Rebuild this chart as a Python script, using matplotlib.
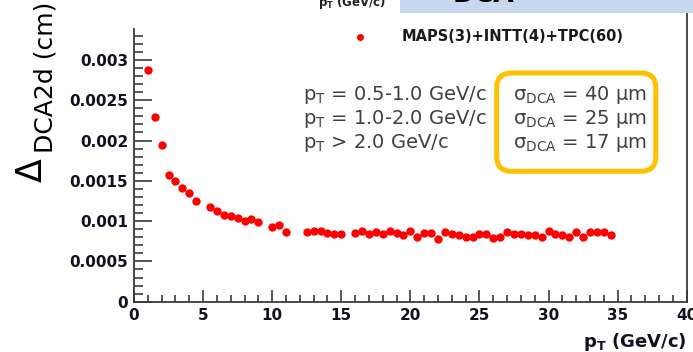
import matplotlib
matplotlib.use("Agg")
import matplotlib.pyplot as plt
from matplotlib.patches import FancyBboxPatch, Rectangle
from matplotlib.ticker import FixedLocator, MultipleLocator

# --- data -------------------------------------------------------------
pt_gev = [1.0, 1.5, 2.0, 2.5, 3.0, 3.5, 4.0, 4.5, 5.5, 6.0, 6.5, 7.0, 7.5,
          8.0, 8.5, 9.0, 10.0, 10.5, 11.0, 12.5, 13.0, 13.5, 14.0, 14.5,
          15.0, 16.0, 16.5, 17.0, 17.5, 18.0, 18.5, 19.0, 19.5, 20.0, 20.5,
          21.0, 21.5, 22.0, 22.5, 23.0, 23.5, 24.0, 24.5, 25.0, 25.5, 26.0,
          26.5, 27.0, 27.5, 28.0, 28.5, 29.0, 29.5, 30.0, 30.5, 31.0, 31.5,
          32.0, 32.5, 33.0, 33.5, 34.0, 34.5]
dca_res_mm = [2.87, 2.29, 1.95, 1.57, 1.50, 1.41, 1.35, 1.255, 1.18, 1.13,
              1.075, 1.068, 1.04, 1.00, 1.03, 0.985, 0.93, 0.95, 0.86,
              0.866, 0.88, 0.875, 0.857, 0.837, 0.842, 0.853, 0.88, 0.84,
              0.87, 0.84, 0.877, 0.853, 0.825, 0.88, 0.805, 0.853, 0.853,
              0.78, 0.87, 0.837, 0.825, 0.807, 0.807, 0.837, 0.837, 0.79,
              0.804, 0.866, 0.837, 0.837, 0.825, 0.825, 0.807, 0.878, 0.837,
              0.825, 0.807, 0.866, 0.807, 0.866, 0.866, 0.866, 0.825]
# values above are in units of 1e-3 cm
dca_res_cm = [v * 1e-3 for v in dca_res_mm]

x_ticks = [0, 5, 10, 15, 20, 25, 30, 35, 40]
x_tick_labels = ["0", "5", "10", "15", "20", "25", "30", "35", "40"]
y_ticks = [0, 0.0005, 0.001, 0.0015, 0.002, 0.0025, 0.003]
y_tick_labels = ["0", "0.0005", "0.001", "0.0015", "0.002", "0.0025", "0.003"]

pt_ranges = [r"p$_{\mathregular{T}}$ = 0.5-1.0 GeV/c",
             r"p$_{\mathregular{T}}$ = 1.0-2.0 GeV/c",
             r"p$_{\mathregular{T}}$ > 2.0 GeV/c"]
sigma_dca = ["40", "25", "17"]
legend_label = "MAPS(3)+INTT(4)+TPC(60)"

# --- figure -----------------------------------------------------------
W, H = 693, 352
plt.rcParams["font.family"] = ["DejaVu Sans"]
plt.rcParams["mathtext.fontset"] = "dejavusans"
fig = plt.figure(figsize=(W / 100, H / 100), dpi=100)
fig.patch.set_facecolor("white")

ax_l, ax_r, ax_b, ax_t = 134, 686.7, 301.7, 29.3
ax = fig.add_axes([ax_l / W, 1 - ax_b / H, (ax_r - ax_l) / W, (ax_b - ax_t) / H])
ax.set_xlim(0, 40)
ax.set_ylim(0, 0.00338)
ax.set_facecolor("none")

ax.plot(pt_gev, dca_res_cm, "o", color="#ff0000", ms=6.0, mec="none",
        clip_on=False, zorder=3)

axis_col = "#3a3a3a"
label_col = "#111122"
for side in ("top", "right"):
    ax.spines[side].set_visible(False)
for side in ("left", "bottom"):
    ax.spines[side].set_color(axis_col)
    ax.spines[side].set_linewidth(1.3)

ax.xaxis.set_major_locator(FixedLocator(x_ticks))
ax.xaxis.set_minor_locator(MultipleLocator(1))
ax.yaxis.set_major_locator(FixedLocator(y_ticks))
ax.yaxis.set_minor_locator(MultipleLocator(0.0001))
ax.set_xticklabels(x_tick_labels)
ax.set_yticklabels(y_tick_labels)

ax.tick_params(axis="both", which="both", direction="in", color=axis_col,
               width=1.2, labelcolor=label_col, labelsize=11)
ax.tick_params(axis="x", which="major", length=8.6, pad=4.5)
ax.tick_params(axis="x", which="minor", length=4.7)
ax.tick_params(axis="y", which="major", length=13, pad=4.3)
ax.tick_params(axis="y", which="minor", length=6.5)
for lab in ax.get_xticklabels() + ax.get_yticklabels():
    lab.set_fontweight("bold")
    lab.set_clip_on(False)

# --- overlay in pixel units for annotations ---------------------------
ov = fig.add_axes([0, 0, 1, 1], zorder=5)
ov.set_xlim(0, W)
ov.set_ylim(H, 0)
ov.axis("off")

# frame line on the right side
ov.plot([ax_r, ax_r], [ax_b, 0], color=axis_col, lw=1.3)

# header strip
ov.add_patch(Rectangle((400, 0), 300, 13, facecolor="#c6d7ee",
                       edgecolor="none", zorder=2))
ov.text(453, 2, "DCA", fontsize=19, fontweight="bold", color="black",
        ha="left", va="baseline", zorder=3)
ov.text(318, 6, r"$\mathbf{p_T}$ (GeV/c)", fontsize=8.5, fontweight="bold",
        color="#222222", ha="left", va="baseline")

# legend
ov.plot([360], [37], "o", color="#ff0000", ms=5, mec="none")
ov.text(401.7, 40.7, legend_label, fontsize=10.5, fontweight="bold",
        color="#1a1a1a", ha="left", va="baseline")

# resolution text block
txt_col = "#404040"
for i, (rng, sig) in enumerate(zip(pt_ranges, sigma_dca)):
    base = [100, 124, 148][i]
    ov.text(303, base, rng, fontsize=14, color=txt_col, ha="left",
            va="baseline")
    ov.text(513, base, r"σ$_{\mathregular{DCA}}$ = " + sig + " μm",
            fontsize=14, color=txt_col, ha="left", va="baseline")

ov.add_patch(FancyBboxPatch((496.7, 73), 159.1, 98.3,
                            boxstyle="round,pad=0,rounding_size=15",
                            facecolor="none", edgecolor="#ffc000", lw=3.6))

# axis titles
ov.text(686.7, 347, r"$\mathbf{p_T}$ (GeV/c)", fontsize=13,
        fontweight="bold", color=label_col, ha="right", va="baseline")
ov.text(42, 182, "Δ", fontsize=25, color="black", rotation=90,
        rotation_mode="anchor", ha="left", va="baseline")
ov.text(52, 153, "DCA2d (cm)", fontsize=18, color="black", rotation=90,
        rotation_mode="anchor", ha="left", va="baseline")

fig.savefig("out.png", dpi=100)
